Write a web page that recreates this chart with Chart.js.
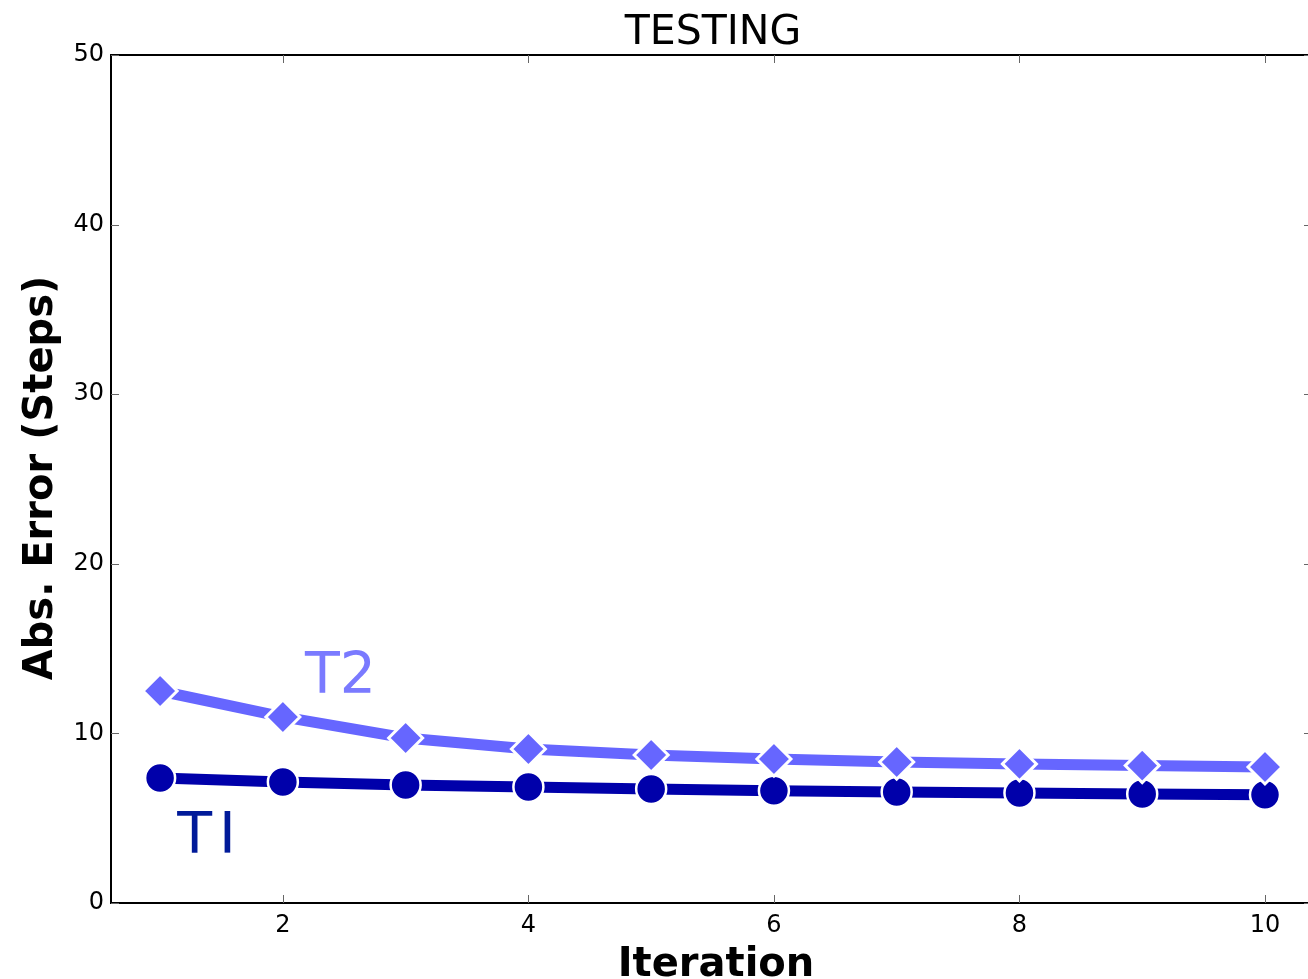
<!DOCTYPE html>
<html>
<head>
<meta charset="utf-8">
<script src="https://cdn.jsdelivr.net/npm/chart.js@4.4.0/dist/chart.umd.min.js"></script>
<style>
  html, body { margin: 0; padding: 0; background: #fff; overflow: hidden; }
  #wrap { width: 1312px; height: 979px; }
</style>
</head>
<body>
<div id="wrap"><canvas id="chart" width="1312" height="979"></canvas></div>
<script>
// data
const iterations = [1, 2, 3, 4, 5, 6, 7, 8, 9, 10];
const t1Values = [7.37, 7.13, 6.96, 6.84, 6.72, 6.62, 6.55, 6.49, 6.43, 6.38];
const t2Values = [12.5, 10.97, 9.73, 9.08, 8.73, 8.49, 8.31, 8.2, 8.1, 8.02];
const xTicks = [2, 4, 6, 8, 10];
const yTicks = [0, 10, 20, 30, 40, 50];

const FONT = "'DejaVu Sans', sans-serif";

// spines, inward ticks, title, axis titles and the series labels
const frame = {
  id: "frame",
  afterDraw(chart) {
    const ctx = chart.ctx;
    const a = chart.chartArea;
    const xs = chart.scales.x, ys = chart.scales.y;
    ctx.save();

    // right spine sits just past the picture edge, so only three are drawn
    ctx.strokeStyle = "#000";
    ctx.lineWidth = 2;
    ctx.beginPath();
    ctx.moveTo(chart.width, a.top); ctx.lineTo(a.left, a.top);
    ctx.lineTo(a.left, a.bottom); ctx.lineTo(chart.width, a.bottom);
    ctx.stroke();

    ctx.strokeStyle = "#666";
    ctx.lineWidth = 1;
    ctx.beginPath();
    xTicks.forEach(v => {
      const px = Math.round(xs.getPixelForValue(v)) + 0.5;
      ctx.moveTo(px, a.bottom); ctx.lineTo(px, a.bottom - 8);
      ctx.moveTo(px, a.top); ctx.lineTo(px, a.top + 8);
    });
    yTicks.forEach(v => {
      const py = Math.round(ys.getPixelForValue(v)) + 0.5;
      ctx.moveTo(a.left, py); ctx.lineTo(a.left + 8, py);
      ctx.moveTo(a.right, py); ctx.lineTo(a.right - 8, py);
    });
    ctx.stroke();

    ctx.fillStyle = "#000";
    ctx.textAlign = "center";
    ctx.textBaseline = "alphabetic";
    ctx.font = "41px " + FONT;
    ctx.fillText("TESTING", 713, 44);

    ctx.font = "bold 40px " + FONT;
    ctx.fillText("Iteration", 716, 976);

    ctx.save();
    ctx.translate(52, 478);
    ctx.rotate(-Math.PI / 2);
    ctx.fillText("Abs. Error (Steps)", 0, 0);
    ctx.restore();

    ctx.textAlign = "left";
    ctx.font = "57px " + FONT;
    ctx.fillStyle = "#7a7aff";
    ctx.fillText("T2", xs.getPixelForValue(2.18), ys.getPixelForValue(12.38));
    ctx.fillStyle = "#001a99";
    ctx.letterSpacing = "7px";
    ctx.fillText("TI", xs.getPixelForValue(1.14), ys.getPixelForValue(2.95));

    ctx.restore();
  }
};

new Chart(document.getElementById("chart"), {
  type: "line",
  data: {
    datasets: [
      {
        label: "T2",
        data: iterations.map((x, i) => ({ x: x, y: t2Values[i] })),
        borderColor: "#6666ff",
        backgroundColor: "#6666ff",
        borderWidth: 11,
        pointStyle: "rectRot",
        pointRadius: 17,
        pointBorderColor: "#fff",
        pointBorderWidth: 3,
        order: 0
      },
      {
        label: "T1",
        data: iterations.map((x, i) => ({ x: x, y: t1Values[i] })),
        borderColor: "#0000aa",
        backgroundColor: "#0000aa",
        borderWidth: 11,
        pointStyle: "circle",
        pointRadius: 15,
        pointBorderColor: "#fff",
        pointBorderWidth: 2.5,
        order: 1
      }
    ]
  },
  options: {
    responsive: false,
    animation: false,
    layout: { autoPadding: false, padding: { top: 55, right: 0, left: 0, bottom: 0 } },
    plugins: {
      legend: { display: false },
      tooltip: { enabled: false }
    },
    scales: {
      x: {
        type: "linear",
        min: 0.6,
        max: 10.383,
        afterFit: s => { s.height = 76; },
        afterBuildTicks: s => { s.ticks = xTicks.map(v => ({ value: v })); },
        grid: { display: false, drawTicks: false },
        border: { display: false },
        ticks: { padding: 8, color: "#000", font: { family: FONT, size: 24 }, maxRotation: 0 }
      },
      y: {
        type: "linear",
        min: 0,
        max: 50,
        afterFit: s => { s.width = 111; },
        afterBuildTicks: s => { s.ticks = yTicks.map(v => ({ value: v })); },
        grid: { display: false, drawTicks: false },
        border: { display: false },
        ticks: { padding: 7, color: "#000", font: { family: FONT, size: 24 } }
      }
    }
  },
  plugins: [frame]
});
</script>
</body>
</html>
